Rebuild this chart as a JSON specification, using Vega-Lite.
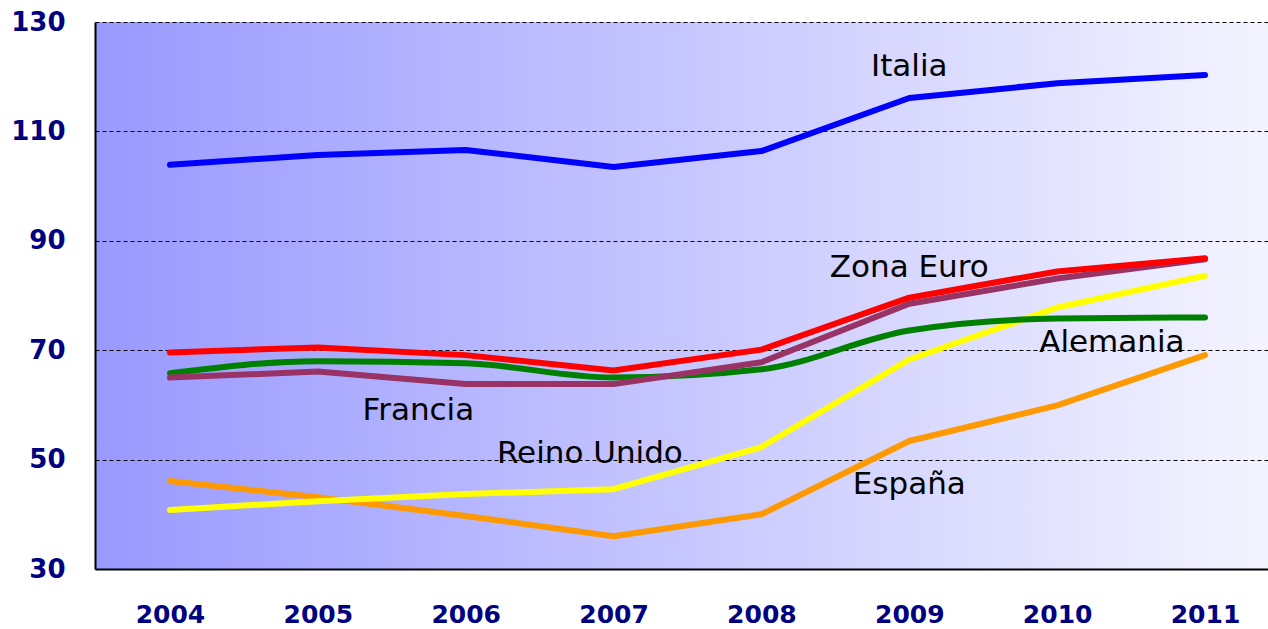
{
  "$schema": "https://vega.github.io/schema/vega-lite/v6.json",
  "width": 1173,
  "height": 547,
  "autosize": {"type": "none"},
  "padding": {"left": 95, "top": 22, "right": 0, "bottom": 60},
  "background": "white",
  "config": {
    "view": {
      "stroke": null,
      "fill": {"gradient": "linear", "x1": 0, "y1": 0, "x2": 1, "y2": 0,
        "stops": [{"offset": 0, "color": "#9999ff"}, {"offset": 1, "color": "#f4f4ff"}]}
    }
  },
  "datasets": {
    "series": [
      {"pais": "Italia", "anio": 2004, "valor": 103.9},
      {"pais": "Italia", "anio": 2005, "valor": 105.7},
      {"pais": "Italia", "anio": 2006, "valor": 106.6},
      {"pais": "Italia", "anio": 2007, "valor": 103.5},
      {"pais": "Italia", "anio": 2008, "valor": 106.4},
      {"pais": "Italia", "anio": 2009, "valor": 116.1},
      {"pais": "Italia", "anio": 2010, "valor": 118.8},
      {"pais": "Italia", "anio": 2011, "valor": 120.3},
      {"pais": "España", "anio": 2004, "valor": 46.1},
      {"pais": "España", "anio": 2005, "valor": 43.1},
      {"pais": "España", "anio": 2006, "valor": 39.7},
      {"pais": "España", "anio": 2007, "valor": 36.0},
      {"pais": "España", "anio": 2008, "valor": 40.0},
      {"pais": "España", "anio": 2009, "valor": 53.4},
      {"pais": "España", "anio": 2010, "valor": 59.9},
      {"pais": "España", "anio": 2011, "valor": 69.1},
      {"pais": "Reino Unido", "anio": 2004, "valor": 40.8},
      {"pais": "Reino Unido", "anio": 2005, "valor": 42.4},
      {"pais": "Reino Unido", "anio": 2006, "valor": 43.7},
      {"pais": "Reino Unido", "anio": 2007, "valor": 44.6},
      {"pais": "Reino Unido", "anio": 2008, "valor": 52.3},
      {"pais": "Reino Unido", "anio": 2009, "valor": 68.3},
      {"pais": "Reino Unido", "anio": 2010, "valor": 77.8},
      {"pais": "Reino Unido", "anio": 2011, "valor": 83.6},
      {"pais": "Alemania", "anio": 2004, "valor": 65.8},
      {"pais": "Alemania", "anio": 2005, "valor": 68.0},
      {"pais": "Alemania", "anio": 2006, "valor": 67.6},
      {"pais": "Alemania", "anio": 2007, "valor": 65.0},
      {"pais": "Alemania", "anio": 2008, "valor": 66.5},
      {"pais": "Alemania", "anio": 2009, "valor": 73.6},
      {"pais": "Alemania", "anio": 2010, "valor": 75.8},
      {"pais": "Alemania", "anio": 2011, "valor": 76.0},
      {"pais": "Francia", "anio": 2004, "valor": 65.0},
      {"pais": "Francia", "anio": 2005, "valor": 66.1},
      {"pais": "Francia", "anio": 2006, "valor": 63.8},
      {"pais": "Francia", "anio": 2007, "valor": 63.8},
      {"pais": "Francia", "anio": 2008, "valor": 67.8},
      {"pais": "Francia", "anio": 2009, "valor": 78.5},
      {"pais": "Francia", "anio": 2010, "valor": 83.1},
      {"pais": "Francia", "anio": 2011, "valor": 86.6},
      {"pais": "Zona Euro", "anio": 2004, "valor": 69.6},
      {"pais": "Zona Euro", "anio": 2005, "valor": 70.5},
      {"pais": "Zona Euro", "anio": 2006, "valor": 69.1},
      {"pais": "Zona Euro", "anio": 2007, "valor": 66.3},
      {"pais": "Zona Euro", "anio": 2008, "valor": 70.1},
      {"pais": "Zona Euro", "anio": 2009, "valor": 79.6},
      {"pais": "Zona Euro", "anio": 2010, "valor": 84.4},
      {"pais": "Zona Euro", "anio": 2011, "valor": 86.8}
    ],
    "etiquetas": [
      {"texto": "Italia", "anio": 2009.0, "valor": 120.1},
      {"texto": "Zona Euro", "anio": 2009.0, "valor": 83.4},
      {"texto": "Alemania", "anio": 2010.37, "valor": 69.7},
      {"texto": "Francia", "anio": 2005.68, "valor": 57.2},
      {"texto": "Reino Unido", "anio": 2006.84, "valor": 49.4},
      {"texto": "España", "anio": 2009.0, "valor": 43.7}
    ],
    "borde": [{"valor": 130}]
  },
  "encoding": {
    "x": {
      "field": "anio", "type": "quantitative",
      "scale": {"domain": [2003.493, 2011.426], "nice": false, "zero": false},
      "axis": {
        "title": null, "values": [2004, 2005, 2006, 2007, 2008, 2009, 2010, 2011],
        "format": "d", "grid": false, "ticks": false,
        "domainColor": "black", "domainWidth": 2,
        "labelFont": "DejaVu Sans", "labelFontWeight": "bold", "labelFontSize": 25,
        "labelColor": "#000080", "labelPadding": 33, "labelFlush": false
      }
    },
    "y": {
      "field": "valor", "type": "quantitative",
      "scale": {"domain": [30, 130], "nice": false, "zero": false},
      "axis": {
        "title": null, "values": [30, 50, 70, 90, 110, 130],
        "grid": true, "gridColor": "black", "gridDash": [4, 3], "gridWidth": 1, "gridOpacity": 1,
        "ticks": false, "domainColor": "black", "domainWidth": 2,
        "labelFont": "DejaVu Sans", "labelFontWeight": "bold", "labelFontSize": 26,
        "labelColor": "#000080", "labelPadding": 30
      }
    }
  },
  "layer": [
    {
      "data": {"name": "borde"},
      "mark": {"type": "rule", "color": "black", "strokeWidth": 2},
      "encoding": {}
    },
    {
      "data": {"name": "series"},
      "transform": [{"filter": {"field": "pais", "oneOf": ["Italia", "España", "Reino Unido"]}}],
      "mark": {"type": "line", "strokeWidth": 6, "strokeCap": "round", "strokeJoin": "round"},
      "encoding": {
        "color": {"field": "pais", "type": "nominal", "legend": null,
          "scale": {"domain": ["Italia", "España", "Reino Unido", "Alemania", "Francia", "Zona Euro"],
            "range": ["#0000ff", "#ff9900", "#ffff00", "#008000", "#993366", "#ff0000"]}}
      }
    },
    {
      "data": {"name": "series"},
      "transform": [{"filter": {"field": "pais", "equal": "Alemania"}}],
      "mark": {"type": "line", "strokeWidth": 6, "strokeCap": "round", "strokeJoin": "round", "interpolate": "monotone"},
      "encoding": {
        "color": {"field": "pais", "type": "nominal", "legend": null}
      }
    },
    {
      "data": {"name": "series"},
      "transform": [{"filter": {"field": "pais", "oneOf": ["Francia", "Zona Euro"]}}],
      "mark": {"type": "line", "strokeWidth": 6, "strokeCap": "round", "strokeJoin": "round"},
      "encoding": {
        "color": {"field": "pais", "type": "nominal", "legend": null}
      }
    },
    {
      "data": {"name": "etiquetas"},
      "mark": {"type": "text", "font": "DejaVu Sans", "fontSize": 31, "color": "black", "align": "center", "baseline": "alphabetic"},
      "encoding": {
        "text": {"field": "texto", "type": "nominal"}
      }
    }
  ]
}
